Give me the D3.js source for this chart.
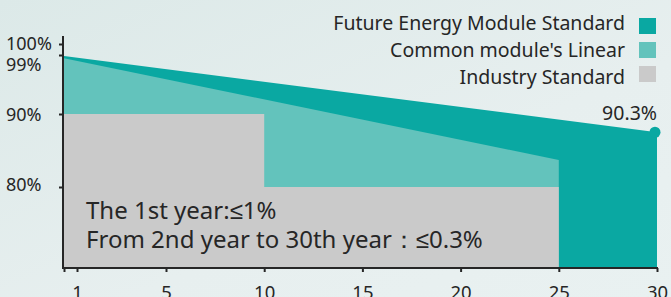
<!DOCTYPE html>
<html>
<head>
<meta charset="utf-8">
<script src="https://cdn.jsdelivr.net/npm/d3@7"></script>
<style>
  html, body { margin: 0; padding: 0; }
  svg { display: block; font-family: "Noto Sans", sans-serif; }
</style>
</head>
<body>
<div id="wrapper"></div>
<script>
// data
const futureYears = [0, 30]
const futureValues = [98.85, 87.5]
const commonYears = [0, 25]
const commonValues = [98.5, 83.7]
const industryYears = [0, 10, 25]
const industryValues = [90, 80, 80]
const xTicks = [0, 1, 5, 10, 15, 20, 25, 30]
const yTicks = [80, 90, 99, 100]
const seriesNames = ["Future Energy Module Standard", "Common module's Linear", "Industry Standard"]
const endLabel = "90.3%"
const noteLines = ["The 1st year:≤1%", "From 2nd year to 30th year：≤0.3%"]

const colors = ["#0aa8a2", "#63c3bc", "#cacaca"]

function drawChart() {

  // 1. dimensions
  const dimensions = { width: 671, height: 297 }

  const wrapper = d3.select("#wrapper")
    .append("svg")
      .attr("width", dimensions.width)
      .attr("height", dimensions.height)

  // background
  const defs = wrapper.append("defs")
  const grad = defs.append("linearGradient")
      .attr("id", "bg")
      .attr("x1", 0).attr("y1", 0).attr("x2", 1).attr("y2", 1)
  grad.append("stop").attr("offset", "0%").attr("stop-color", "#dce9e8")
  grad.append("stop").attr("offset", "60%").attr("stop-color", "#e7efef")
  grad.append("stop").attr("offset", "100%").attr("stop-color", "#e9f1f1")
  wrapper.append("rect")
      .attr("width", dimensions.width)
      .attr("height", dimensions.height)
      .attr("fill", "url(#bg)")

  // 2. scales (the infographic axes are not evenly spaced)
  const baseValue = 68.9
  const xScale = d3.scaleLinear()
    .domain([0, 1, 5, 30])
    .range([64, 77, 166, 657])

  const yScale = d3.scaleLinear()
    .domain([baseValue, 80, 90, 99, 100])
    .range([268, 187, 114, 55, 44])

  // 3. areas
  const zip = (xs, ys) => xs.map((d, i) => [d, ys[i]])
  const areaGenerator = d3.area()
    .x(d => xScale(d[0]))
    .y0(yScale(baseValue))
    .y1(d => yScale(d[1]))

  wrapper.append("path")
      .attr("d", areaGenerator(zip(futureYears, futureValues)))
      .attr("fill", colors[0])

  wrapper.append("path")
      .attr("d", areaGenerator(zip(commonYears, commonValues)))
      .attr("fill", colors[1])

  wrapper.append("path")
      .attr("d", areaGenerator.curve(d3.curveStepAfter)(zip(industryYears, industryValues)))
      .attr("fill", colors[2])

  // end point of the top series
  const lastYear = futureYears[futureYears.length - 1]
  const lastValue = futureValues[futureValues.length - 1]
  wrapper.append("circle")
      .attr("cx", xScale(lastYear) - 2)
      .attr("cy", yScale(lastValue))
      .attr("r", 5.5)
      .attr("fill", colors[0])
  wrapper.append("text")
      .attr("x", xScale(lastYear))
      .attr("y", yScale(lastValue) - 12)
      .attr("text-anchor", "end")
      .attr("font-size", 19.5)
      .attr("fill", "#262626")
      .text(endLabel)

  // note text
  wrapper.append("g")
    .selectAll("text")
    .data(noteLines)
    .join("text")
      .attr("x", 86)
      .attr("y", (d, i) => 219 + i * 29)
      .attr("font-size", 24)
      .attr("fill", "#262626")
      .text(d => d)

  // 4. axes
  const yAxis = wrapper.append("g")
      .attr("transform", "translate(63,0)")
      .call(d3.axisLeft(yScale)
        .tickValues(yTicks)
        .tickSize(4)
        .tickSizeOuter(0)
        .tickFormat(d => d + "%"))
  yAxis.select(".domain").remove()
  yAxis.selectAll(".tick line").attr("stroke", "#262626").attr("stroke-width", 2)
  yAxis.selectAll(".tick text")
      .attr("x", -57)
      .attr("text-anchor", "start")
      .attr("font-size", 18)
      .attr("font-family", "Noto Sans")
      .attr("fill", "#262626")
      .attr("dy", d => d === 99 ? "0.88em" : d === 90 ? "0.38em" : d === 80 ? "0.18em" : "0.28em")
  yAxis.append("line")
      .attr("y1", 36)
      .attr("y2", 269)
      .attr("stroke", "#262626")
      .attr("stroke-width", 2)

  const xAxis = wrapper.append("g")
      .attr("transform", "translate(0,268)")
      .call(d3.axisBottom(xScale)
        .tickValues(xTicks)
        .tickSize(4)
        .tickSizeOuter(0)
        .tickFormat(d => d === 0 ? "" : d))
  xAxis.select(".domain").remove()
  xAxis.selectAll(".tick line").attr("stroke", "#262626").attr("stroke-width", 2)
  xAxis.selectAll(".tick text")
      .attr("y", 18)
      .attr("font-size", 18.5)
      .attr("font-family", "Noto Sans")
      .attr("fill", "#262626")
  xAxis.append("line")
      .attr("x1", 63)
      .attr("x2", 658)
      .attr("stroke", "#262626")
      .attr("stroke-width", 2)

  // 5. legend
  const legend = wrapper.append("g")
    .selectAll("g")
    .data(seriesNames)
    .join("g")
  legend.append("rect")
      .attr("x", 639)
      .attr("y", (d, i) => 18 + i * 24)
      .attr("width", 17)
      .attr("height", 16)
      .attr("fill", (d, i) => colors[i])
  legend.append("text")
      .attr("x", 625)
      .attr("y", (d, i) => 23 + i * 27)
      .attr("dy", "0.35em")
      .attr("text-anchor", "end")
      .attr("font-size", 19.5)
      .attr("fill", "#262626")
      .text(d => d)
}

drawChart()
</script>
</body>
</html>
